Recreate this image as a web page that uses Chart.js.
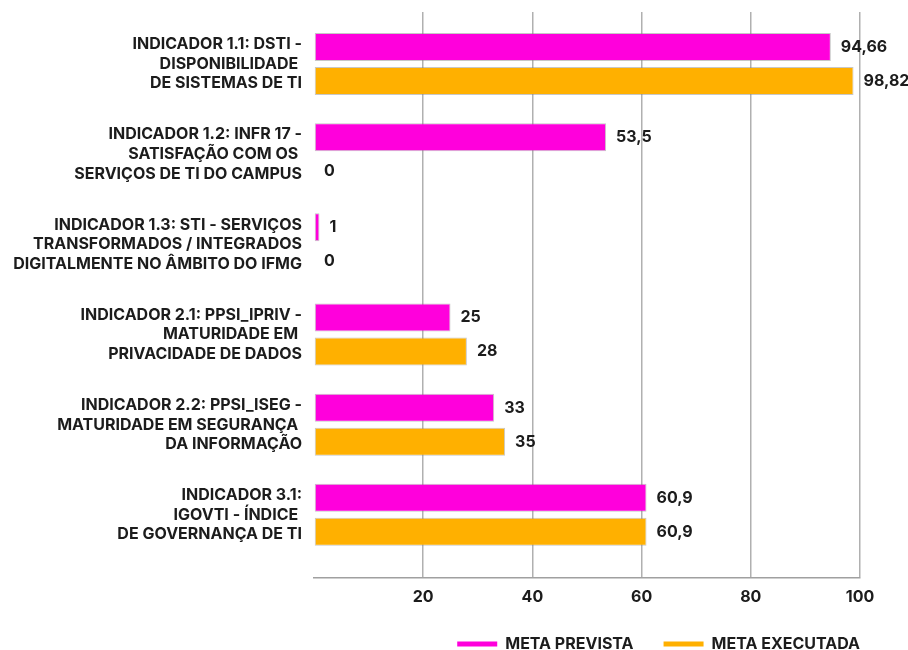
<!DOCTYPE html>
<html>
<head>
<meta charset="utf-8">
<script src="https://cdn.jsdelivr.net/npm/chart.js@4"></script>
<style>
  html, body { margin: 0; background: #fff; }
</style>
</head>
<body>
<canvas id="graficoIndicadores" width="908" height="650"></canvas>
<script>
const categorias = [
  ['INDICADOR 1.1: DSTI -', 'DISPONIBILIDADE ', 'DE SISTEMAS DE TI'],
  ['INDICADOR 1.2: INFR 17 -', 'SATISFAÇÃO COM OS ', 'SERVIÇOS DE TI DO CAMPUS'],
  ['INDICADOR 1.3: STI - SERVIÇOS', 'TRANSFORMADOS / INTEGRADOS', 'DIGITALMENTE NO ÂMBITO DO IFMG'],
  ['INDICADOR 2.1: PPSI_IPRIV -', 'MATURIDADE EM ', 'PRIVACIDADE DE DADOS'],
  ['INDICADOR 2.2: PPSI_ISEG -', 'MATURIDADE EM SEGURANÇA ', 'DA INFORMAÇÃO'],
  ['INDICADOR 3.1:', 'IGOVTI - ÍNDICE ', 'DE GOVERNANÇA DE TI']
];
const metaPrevista = [94.66, 53.5, 1, 25, 33, 60.9];
const metaExecutada = [98.82, 0, 0, 28, 35, 60.9];
const ticksEixoX = [20, 40, 60, 80, 100];

const fonteBase = 'Inter';
const pesoFonte = '700';
const tamanhoFonte = 16;
const corTexto = '#1c1c1c';

function formatarValor(v) {
  return String(v).replace('.', ',');
}

// escreve o valor ao lado de cada barra
const rotulosValores = {
  id: 'rotulosValores',
  afterDatasetsDraw(chart) {
    const ctx = chart.ctx;
    ctx.save();
    ctx.font = pesoFonte + ' ' + tamanhoFonte + 'px ' + fonteBase;
    ctx.fillStyle = corTexto;
    ctx.textBaseline = 'middle';
    ctx.textAlign = 'left';
    chart.data.datasets.forEach(function(ds, i) {
      chart.getDatasetMeta(i).data.forEach(function(barra, j) {
        ctx.fillText(formatarValor(ds.data[j]), barra.x + 10, barra.y);
      });
    });
    ctx.restore();
  }
};

// legenda encostada na borda direita da área do gráfico
const ajusteLegenda = {
  id: 'ajusteLegenda',
  afterLayout(chart) {
    const leg = chart.legend;
    leg.left += 30;
    leg.right += 30;
    leg.top -= 11;
    leg.bottom -= 11;
  }
};

const ctx = document.getElementById('graficoIndicadores').getContext('2d');

const grafico = new Chart(ctx, {
  type: 'bar',
  data: {
    labels: categorias,
    datasets: [{
      label: 'META PREVISTA',
      data: metaPrevista,
      backgroundColor: '#ff00dc',
      borderColor: 'rgba(130, 130, 130, 0.45)',
      borderWidth: 1,
      borderSkipped: false
    }, {
      label: 'META EXECUTADA',
      data: metaExecutada,
      backgroundColor: '#ffb000',
      borderColor: 'rgba(130, 130, 130, 0.45)',
      borderWidth: 1,
      borderSkipped: false
    }]
  },
  options: {
    indexAxis: 'y',
    responsive: false,
    animation: false,
    categoryPercentage: 0.754,
    barPercentage: 0.824,
    layout: {
      padding: { top: 12, right: 48, left: 0, bottom: -23 }
    },
    scales: {
      x: {
        min: 0,
        max: 100,
        afterBuildTicks: function(scale) {
          scale.ticks = [0].concat(ticksEixoX).map(function(v) { return { value: v }; });
        },
        ticks: {
          callback: function(v) { return v === 0 ? '' : v; },
          font: { family: fonteBase, size: tamanhoFonte, weight: pesoFonte },
          color: corTexto,
          padding: 10
        },
        grid: {
          drawTicks: false,
          lineWidth: 1.5,
          color: function(c) { return c.tick && c.tick.value === 0 ? 'rgba(0,0,0,0)' : '#b0b0b0'; }
        },
        border: { display: true, color: '#a0a0a0', width: 1.5 }
      },
      y: {
        // folga extra acima e abaixo das categorias
        afterBuildTicks: function(scale) {
          scale._startValue -= 0.077;
          scale._valueRange += 0.077 + 0.198;
        },
        afterFit: function(scale) {
          scale.width = 314;
          scale.paddingTop = 0;
          scale.paddingBottom = 0;
        },
        ticks: {
          font: { family: fonteBase, size: tamanhoFonte, weight: pesoFonte, lineHeight: 1.22 },
          color: corTexto,
          padding: 12
        },
        grid: { display: false, drawTicks: false },
        border: { display: false }
      }
    },
    plugins: {
      tooltip: { enabled: false },
      legend: {
        position: 'bottom',
        align: 'end',
        labels: {
          usePointStyle: true,
          pointStyle: 'line',
          pointStyleWidth: 40,
          padding: 30,
          color: corTexto,
          font: { family: fonteBase, size: tamanhoFonte, weight: pesoFonte },
          generateLabels: function(chart) {
            const itens = Chart.defaults.plugins.legend.labels.generateLabels(chart);
            itens.forEach(function(item) {
              item.strokeStyle = item.fillStyle;
              item.lineWidth = 5;
              item.pointStyle = 'line';
            });
            return itens;
          }
        }
      }
    }
  },
  plugins: [rotulosValores, ajusteLegenda]
});
</script>
</body>
</html>
